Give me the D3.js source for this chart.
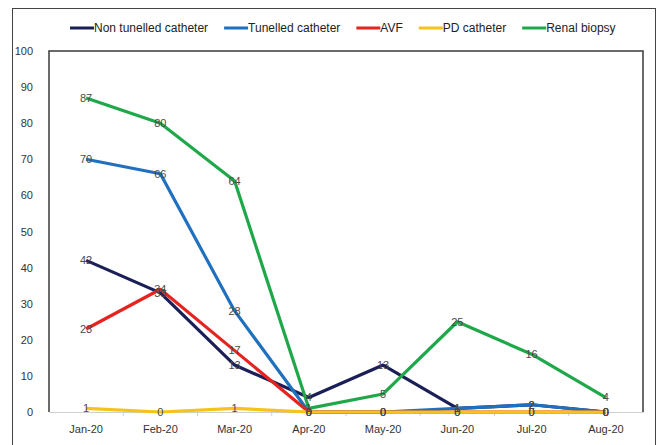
<!DOCTYPE html>
<html>
<head>
<meta charset="utf-8">
<script src="https://cdn.jsdelivr.net/npm/d3@7"></script>
<style>
  body { margin: 0; background: #fff; }
  text { font-family: "Liberation Sans", Arial, sans-serif; }
</style>
</head>
<body>
<div id="chart"></div>
<script>
// data
var months = ["Jan-20", "Feb-20", "Mar-20", "Apr-20", "May-20", "Jun-20", "Jul-20", "Aug-20"];
var seriesNames = ["Non tunelled catheter", "Tunelled catheter", "AVF", "PD catheter", "Renal biopsy"];
var seriesColors = ["#1b1f57", "#1f70be", "#e52420", "#f7c21a", "#1fa84a"];
var nonTunelled = [42, 33, 13, 4, 13, 1, 2, 0];
var tunelled = [70, 66, 28, 0, 0, 1, 2, 0];
var avf = [23, 34, 17, 0, 0, 0, 0, 0];
var pdCatheter = [1, 0, 1, 0, 0, 0, 0, 0];
var renalBiopsy = [87, 80, 64, 1, 5, 25, 16, 4];
var yTicks = [0, 10, 20, 30, 40, 50, 60, 70, 80, 90, 100];

var allValues = [nonTunelled, tunelled, avf, pdCatheter, renalBiopsy];

// set the dimensions and margins of the graph
var margin = {top: 51, right: 14, bottom: 33, left: 49},
    width = 657 - margin.left - margin.right,
    height = 445 - margin.top - margin.bottom;

var root = d3.select("#chart")
  .append("svg")
    .attr("width", 657)
    .attr("height", 445);

// outer frame
root.append("rect")
  .attr("x", 12.5).attr("y", 8.5)
  .attr("width", 657 - 12.5 - 1.5).attr("height", 445)
  .attr("fill", "none")
  .attr("stroke", "#444")
  .attr("stroke-width", 1);

var svg = root.append("g")
  .attr("transform", "translate(" + margin.left + "," + margin.top + ")");

var x = d3.scaleBand()
  .domain(months)
  .range([0, width]);

var y = d3.scaleLinear()
  .domain([0, 100])
  .range([height, 0]);

// plot frame (top, left, right)
svg.append("path")
  .attr("d", "M0," + height + "V0H" + width + "V" + height)
  .attr("fill", "none")
  .attr("stroke", "#3a3a3a")
  .attr("stroke-width", 1.5);

// X axis
var xAxis = svg.append("g")
  .attr("transform", "translate(0," + height + ")")
  .call(d3.axisBottom(x).tickSize(0).tickPadding(13));
xAxis.select(".domain").attr("stroke", "#cfcfcf").attr("stroke-width", 1.2);
xAxis.selectAll("text")
  .attr("font-size", 11)
  .attr("fill", "#333");

// little ticks between categories
svg.selectAll(".btick")
  .data(months.slice(1))
  .enter()
  .append("line")
    .attr("x1", function(d) { return x(d); })
    .attr("x2", function(d) { return x(d); })
    .attr("y1", height)
    .attr("y2", height + 4)
    .attr("stroke", "#cfcfcf");

// Y axis
var yAxis = svg.append("g")
  .call(d3.axisLeft(y).tickValues(yTicks).tickSize(0).tickPadding(16));
yAxis.select(".domain").remove();
yAxis.selectAll("text")
  .attr("font-size", 11)
  .attr("fill", "#333");

// lines
var line = d3.line()
  .x(function(d, i) { return x(months[i]) + x.bandwidth() / 2; })
  .y(function(d) { return y(d); });

allValues.forEach(function(vals, k) {
  svg.append("path")
    .datum(vals)
    .attr("fill", "none")
    .attr("stroke", seriesColors[k])
    .attr("stroke-width", 3.2)
    .attr("stroke-linejoin", "round")
    .attr("d", line);
});

// value labels
allValues.forEach(function(vals, k) {
  svg.selectAll(".lbl" + k)
    .data(vals)
    .enter()
    .append("text")
      .attr("x", function(d, i) { return x(months[i]) + x.bandwidth() / 2; })
      .attr("y", function(d) { return y(d); })
      .attr("dy", "0.35em")
      .attr("text-anchor", "middle")
      .attr("font-size", 11)
      .attr("fill", "#4a4a4a")
      .text(function(d) { return d; });
});

// legend
var legend = root.append("g")
  .attr("transform", "translate(70,28)");
var lx = 0;
seriesNames.forEach(function(name, k) {
  legend.append("line")
    .attr("x1", lx).attr("x2", lx + 24)
    .attr("y1", 0).attr("y2", 0)
    .attr("stroke", seriesColors[k])
    .attr("stroke-width", 3);
  var t = legend.append("text")
    .attr("x", lx + 24)
    .attr("y", 0)
    .attr("dy", "0.35em")
    .attr("font-size", 12)
    .attr("fill", "#222")
    .text(name);
  lx += 24 + t.node().getComputedTextLength() + 16;
});
</script>
</body>
</html>
